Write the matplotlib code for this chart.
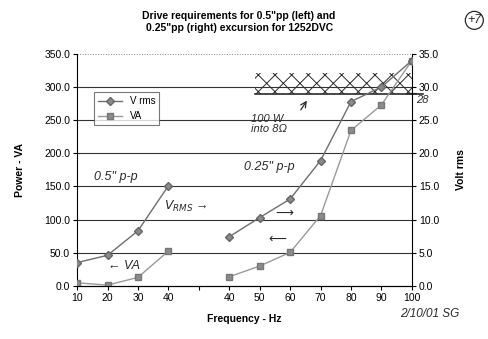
import matplotlib
matplotlib.use('Agg')
import matplotlib.pyplot as plt
from matplotlib.patches import Circle

plt.rcParams['font.family'] = ['Liberation Sans', 'DejaVu Sans']
plt.rcParams['hatch.linewidth'] = 0.7

# categorias del eje x (hueco entre 0.5" y 0.25")
frecuencias = ['10', '20', '30', '40', '', '40', '50', '60', '70', '80', '90', '100']

# 0.5" p-p (izquierda)
idx_izq = [0, 1, 2, 3]
vrms_izq = [3.5, 4.6, 8.3, 15.1]
va_izq = [4.5, 1.0, 12.7, 52.4]

# 0.25" p-p (derecha)
idx_der = [5, 6, 7, 8, 9, 10, 11]
vrms_der = [7.4, 10.3, 13.1, 18.9, 27.8, 30.0, 34.0]
va_der = [13.6, 29.8, 50.4, 105.9, 234.5, 273.0, 340.0]

col_v = '#6e6e6e'
col_va = '#9a9a9a'
tinta = '#2a2a2a'

fig = plt.figure(figsize=(4.88, 3.39), dpi=100)
ax = fig.add_axes([0.158, 0.157, 0.686, 0.684])
ax2 = ax.twinx()

# lineas de la grilla
for y in range(50, 350, 50):
    ax.axhline(y, color='#333333', lw=0.8, zorder=1)
ax.axhline(350, color='#888888', lw=0.7, ls=':', zorder=1)

ax.plot(idx_izq, va_izq, color=col_va, lw=1, marker='s', ms=5,
        mfc='#8c8c8c', mec='#777777', zorder=3)
ax.plot(idx_der, va_der, color=col_va, lw=1, marker='s', ms=5,
        mfc='#8c8c8c', mec='#777777', zorder=3)
ax2.plot(idx_izq, vrms_izq, color=col_v, lw=1, marker='D', ms=4.5,
         mfc='#8a8a8a', mec='#666666', zorder=3)
ax2.plot(idx_der, vrms_der, color=col_v, lw=1, marker='D', ms=4.5,
         mfc='#8a8a8a', mec='#666666', zorder=3)

ax.set_xlim(0, 11)
ax.set_ylim(0, 350)
ax2.set_ylim(0, 35)
ax.set_xticks(range(len(frecuencias)))
ax.set_xticklabels(frecuencias)
ax.set_yticks(range(0, 351, 50))
ax.set_yticklabels([f'{v:.1f}' for v in range(0, 351, 50)])
ax2.set_yticks(range(0, 36, 5))
ax2.set_yticklabels([f'{v:.1f}' for v in range(0, 36, 5)])

for a in (ax, ax2):
    a.spines['top'].set_visible(False)
    a.tick_params(labelsize=7.5, length=3, width=0.8, pad=2)
    a.set_facecolor('none')
ax.spines['right'].set_visible(False)
ax2.spines['left'].set_visible(False)

ax.set_xlabel('Frequency - Hz', fontsize=7.5, fontweight='bold', labelpad=8)
ax.set_ylabel('Power - VA', fontsize=7.5, fontweight='bold', labelpad=14)
ax2.set_ylabel('Volt rms', fontsize=7.5, fontweight='bold', labelpad=12)

fig.text(0.49, 0.935, 'Drive requirements for 0.5"pp (left) and\n0.25"pp (right) excursion for 1252DVC',
         ha='center', va='center', fontsize=7.5, fontweight='bold', linespacing=1.3)

# leyenda
h1, = ax.plot([], [], color=col_v, lw=1, marker='D', ms=4.5, mfc='#8a8a8a', mec='#666666')
h2, = ax.plot([], [], color=col_va, lw=1, marker='s', ms=5, mfc='#8c8c8c', mec='#777777')
leg = ax.legend([h1, h2], ['V rms', 'VA'], loc='upper left', bbox_to_anchor=(0.035, 0.855),
                fontsize=7, frameon=True, fancybox=False, edgecolor='#555555',
                handlelength=2.5, borderpad=0.4, labelspacing=0.5)
leg.get_frame().set_linewidth(0.8)
leg.set_zorder(5)

# anotaciones a mano
ax.fill_between([5.85, 11], 290, 321, facecolor='none', edgecolor=tinta,
                hatch='xx', lw=0, zorder=2)
ax.plot([5.85, 11.35], [290, 290], color=tinta, lw=1.2, clip_on=False, zorder=2)
ax.add_patch(Circle((11, 290), 0.17, transform=ax.transData, fill=False,
                    ec=tinta, lw=0.9, clip_on=False))
fig.text(0.852, 0.695, '28', fontsize=8, color=tinta, style='italic')

hand = dict(color=tinta, style='italic', fontsize=9)
ax.text(0.55, 160, '0.5" p-p', **hand)
ax.text(2.85, 115, r'$V_{RMS}$ →', **hand)
ax.text(1.0, 25, '← VA', **hand)
ax.text(5.5, 175, '0.25" p-p', **hand)
ax.text(6.5, 105, '⟶', **hand)
ax.text(6.3, 65, '⟵', **hand)
ax.text(5.7, 232, '100 W\ninto 8Ω', fontsize=8, color=tinta, style='italic', linespacing=1.0)
ax.annotate('', xy=(7.6, 283), xytext=(7.3, 262),
            arrowprops=dict(arrowstyle='->', color=tinta, lw=0.9))

fig.text(0.972, 0.94, '+7', fontsize=9, color=tinta, ha='center', va='center', style='italic',
         bbox=dict(boxstyle='circle,pad=0.15', fc='none', ec=tinta, lw=0.9))
fig.text(0.82, 0.065, '2/10/01 SG', fontsize=8.5, color=tinta, style='italic')

fig.savefig('out.png', dpi=100)
plt.close()
